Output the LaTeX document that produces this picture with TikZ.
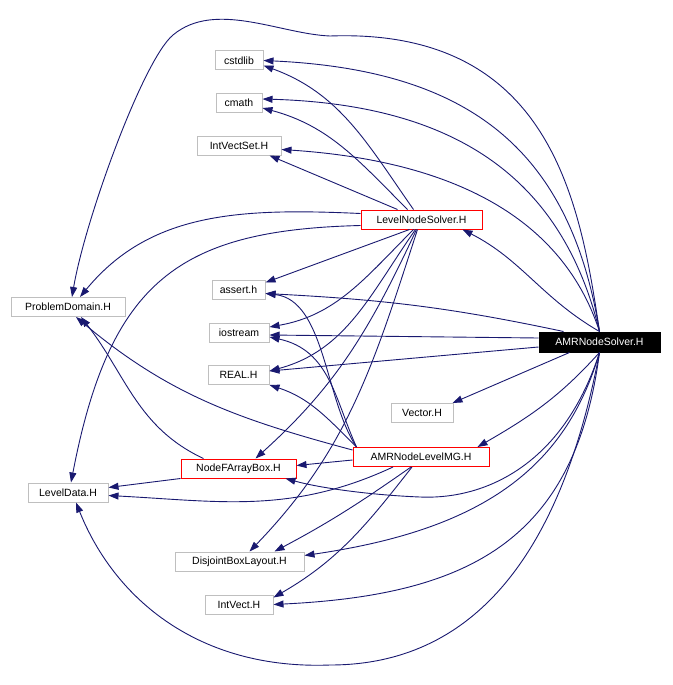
\documentclass[tikz,border=0pt]{standalone}
\usepackage{fontspec}
\setmainfont{Liberation Sans}
\usetikzlibrary{arrows.meta}
\definecolor{edgeblue}{HTML}{191970}
\definecolor{boxgray}{HTML}{BFBFBF}
\tikzstyle{hdr}=[draw=boxgray,fill=white,minimum height=19pt,inner sep=0pt,line width=1pt,font=\fontsize{10.5}{12}\selectfont]
\tikzstyle{srchdr}=[hdr,draw=red]
\tikzstyle{dep}=[draw=edgeblue,line width=0.9pt,-{Triangle[length=10pt,width=7pt]}]

\begin{document}
\begin{tikzpicture}[x=1pt,y=-1pt]
\useasboundingbox (0,0) rectangle (672,685);

\node [hdr,minimum width=48pt] (cstdlib) at (239,60.5) {cstdlib};
\node [hdr,minimum width=46pt] (cmath) at (239,103) {cmath};
\node [hdr,minimum width=84pt] (ivs) at (239,145.5) {IntVectSet.H};
\node [srchdr,minimum width=121pt] (lns) at (421.5,219.5) {LevelNodeSolver.H};
\node [hdr,minimum width=114pt] (pd) at (68,307) {ProblemDomain.H};
\node [hdr,minimum width=53pt] (asrt) at (238.5,289.5) {assert.h};
\node [hdr,minimum width=60pt] (ios) at (239,333) {iostream};
\node [hdr,minimum width=61pt] (real) at (238.5,375) {REAL.H};
\node [hdr,draw=black,fill=black,text=white,minimum width=121pt,minimum height=20pt] (amr) at (599.5,342) {AMRNodeSolver.H};
\node [hdr,minimum width=62pt] (vec) at (422,413) {Vector.H};
\node [srchdr,minimum width=136pt] (mg) at (421,457) {AMRNodeLevelMG.H};
\node [srchdr,minimum width=115pt] (nfab) at (238.5,468.5) {NodeFArrayBox.H};
\node [hdr,minimum width=80pt] (lvd) at (68,492.5) {LevelData.H};
\node [hdr,minimum width=129pt] (dbl) at (239.5,561.5) {DisjointBoxLayout.H};
\node [hdr,minimum width=68pt] (iv) at (239,604.5) {IntVect.H};

\draw [dep] (amr.north) .. controls (580,200) and (550,28) .. (330,36)
  .. controls (280,34) and (215,0) .. (173,35)
  .. controls (143,60) and (85,220) .. ([xshift=4pt]pd.north);
\draw [dep] (amr.north) .. controls (570,150) and (470,70) .. (cstdlib.east);
\draw [dep] (amr.north) .. controls (565,190) and (470,105) .. ([yshift=4pt]cmath.east);
\draw [dep] (amr.north) .. controls (560,210) and (440,160) .. ([yshift=-4pt]ivs.east);
\draw [dep] (amr.north) to[out=150,in=-27] ([xshift=-20pt]lns.south east);
\draw [dep] ([xshift=25pt]amr.north west) to[out=168,in=-3] ([yshift=-4pt]asrt.east);
\draw [dep] ([yshift=4pt]amr.west) -- ([yshift=-2pt]ios.east);
\draw [dep] ([yshift=-5pt]amr.west) -- ([yshift=4pt]real.east);
\draw [dep] ([xshift=-30pt]amr.south) -- ([xshift=-1pt]vec.north east);
\draw [dep] (amr.south) to[out=228,in=30] ([xshift=-12pt]mg.north east);
\draw [dep] (amr.south) .. controls (565,460) and (490,500) .. (420,497)
  .. controls (370,495) and (320,488) .. ([xshift=-11pt]nfab.south east);
\draw [dep] (amr.south) .. controls (565,470) and (480,530) .. ([yshift=6pt]dbl.east);
\draw [dep] (amr.south) .. controls (575,540) and (470,595) .. (iv.east);
\draw [dep] (amr.south) .. controls (560,560) and (470,665) .. (330,665)
  .. controls (200,670) and (115,600) .. ([xshift=8pt]lvd.south);

\draw [dep] ([xshift=-8pt]lns.north) to[out=125,in=-20] ([yshift=-5pt]cstdlib.east);
\draw [dep] ([xshift=-14pt]lns.north) to[out=135,in=-15] ([yshift=-5pt]cmath.east);
\draw [dep] ([xshift=-24pt]lns.north) -- ([xshift=-12pt]ivs.south east);
\draw [dep] ([yshift=6pt]lns.west) .. controls (240,208) and (150,212) .. ([xshift=12pt]pd.north);
\draw [dep] ([yshift=-6pt]lns.west) .. controls (180,230) and (110,280) .. ([xshift=3pt]lvd.north);
\draw [dep] ([xshift=-12pt]lns.south) -- ([yshift=-3pt]asrt.north east);
\draw [dep] ([xshift=-8pt]lns.south) to[out=225,in=10] ([yshift=6pt]ios.east);
\draw [dep] ([xshift=-6pt]lns.south) to[out=235,in=15] ([yshift=4pt]real.east);
\draw [dep] ([xshift=-5pt]lns.south) to[out=245,in=42] ([xshift=17pt]nfab.north);
\draw [dep] ([xshift=-4pt]lns.south) to[out=252,in=46] ([xshift=10pt]dbl.north);

\draw [dep] ([xshift=4pt]mg.north west) .. controls (325,400) and (325,300) .. ([yshift=-4pt]asrt.east);
\draw [dep] ([xshift=4pt]mg.north west) .. controls (335,400) and (330,350) .. ([yshift=-4pt]ios.east);
\draw [dep] ([xshift=4pt]mg.north west) to[out=135,in=-18] (real.south east);
\draw [dep] ([yshift=7pt]mg.west) to[out=165,in=-40] ([xshift=8pt]pd.south);
\draw [dep] ([yshift=-3pt]mg.west) -- ([yshift=3pt]nfab.east);
\draw [dep] ([xshift=-28pt]mg.south) to[out=205,in=-3] ([yshift=-3pt]lvd.east);
\draw [dep] ([xshift=-10pt]mg.south) to[out=215,in=28] ([xshift=35pt]dbl.north);
\draw [dep] ([xshift=-9pt]mg.south) to[out=232,in=30] ([yshift=-3pt]iv.north east);

\draw [dep] ([xshift=-35pt]nfab.north) to[out=155,in=-52] ([xshift=13pt]pd.south);
\draw [dep] (nfab.south west) -- ([yshift=5pt]lvd.east);
\end{tikzpicture}
\end{document}
